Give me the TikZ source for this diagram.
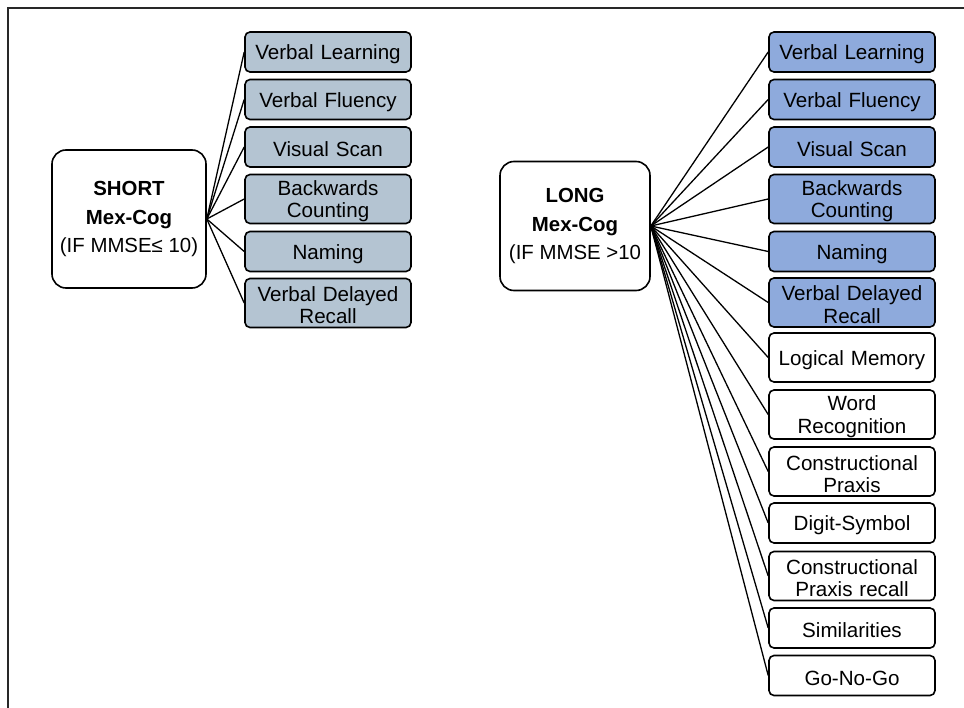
\documentclass[tikz,border=0pt]{standalone}
\usepackage{fontspec}
\setmainfont{Liberation Sans}
\definecolor{shortfill}{RGB}{180,196,210}
\definecolor{longfill}{RGB}{142,170,220}
\definecolor{framegray}{RGB}{40,40,40}
\begin{document}
\begin{tikzpicture}[x=1pt,y=-1pt,
  test/.style={draw=black, line width=1.6pt, rounded corners=5pt,
    minimum width=166pt, minimum height=40pt, text width=162pt,
    align=center, inner sep=0pt, font=\fontsize{20.6}{22.3}\selectfont,
    execute at begin node={\rule{0pt}{19.5pt}}},
  twoline/.style={minimum height=49pt},
  shorttest/.style={test, fill=shortfill},
  longtest/.style={test, fill=longfill},
  plaintest/.style={test, fill=white},
  battery/.style={draw=black, line width=1.6pt, rounded corners=14pt,
    fill=white, align=center, inner sep=0pt,
    font=\fontsize{20.4}{28.3}\selectfont,
    execute at begin node={\rule{0pt}{18pt}}},
  link/.style={draw=black, line width=1.3pt}]
\useasboundingbox (0,0) rectangle (964,708);

% outer frame (top and left edges)
\draw[framegray, line width=2pt] (8,708) -- (8,8) -- (964,8);

% short battery
\node[battery, minimum width=154pt, minimum height=138pt] (short) at (129,219)
  {\textbf{SHORT}\\\textbf{Mex-Cog}\\(IF MMSE≤ 10)};
\node[shorttest] (s1) at (328,52) {Verbal Learning};
\node[shorttest] (s2) at (328,99.5) {Verbal Fluency};
\node[shorttest] (s3) at (328,147) {Visual Scan};
\node[shorttest, twoline] (s4) at (328,199) {Backwards\\Counting};
\node[shorttest] (s5) at (328,251.5) {Naming};
\node[shorttest, twoline] (s6) at (328,303) {Verbal Delayed\\Recall};

\foreach \t in {s1,s2,s3,s4,s5,s6}
  \draw[link] (short.east) -- (\t.west);

% long battery
\node[battery, minimum width=150pt, minimum height=129pt] (long) at (575,226)
  {\textbf{LONG}\\\textbf{Mex-Cog}\\(IF MMSE >10};
\node[longtest] (l1) at (852,52) {Verbal Learning};
\node[longtest] (l2) at (852,99.5) {Verbal Fluency};
\node[longtest] (l3) at (852,147) {Visual Scan};
\node[longtest, twoline] (l4) at (852,199) {Backwards\\Counting};
\node[longtest] (l5) at (852,251.5) {Naming};
\node[longtest, twoline] (l6) at (852,302.5) {Verbal Delayed\\Recall};
\node[plaintest, twoline] (l7) at (852,357.5) {Logical Memory};
\node[plaintest, twoline] (l8) at (852,414.5) {Word\\Recognition};
\node[plaintest, twoline] (l9) at (852,471.5) {Constructional\\Praxis};
\node[plaintest] (l10) at (852,523) {Digit-Symbol};
\node[plaintest, twoline] (l11) at (852,576) {Constructional\\Praxis recall};
\node[plaintest] (l12) at (852,628) {Similarities};
\node[plaintest] (l13) at (852,675.5) {Go-No-Go};

\foreach \t in {l1,l2,l3,l4,l5,l6,l7,l8,l9,l10,l11,l12,l13}
  \draw[link] (long.east) -- (\t.west);
\end{tikzpicture}
\end{document}
